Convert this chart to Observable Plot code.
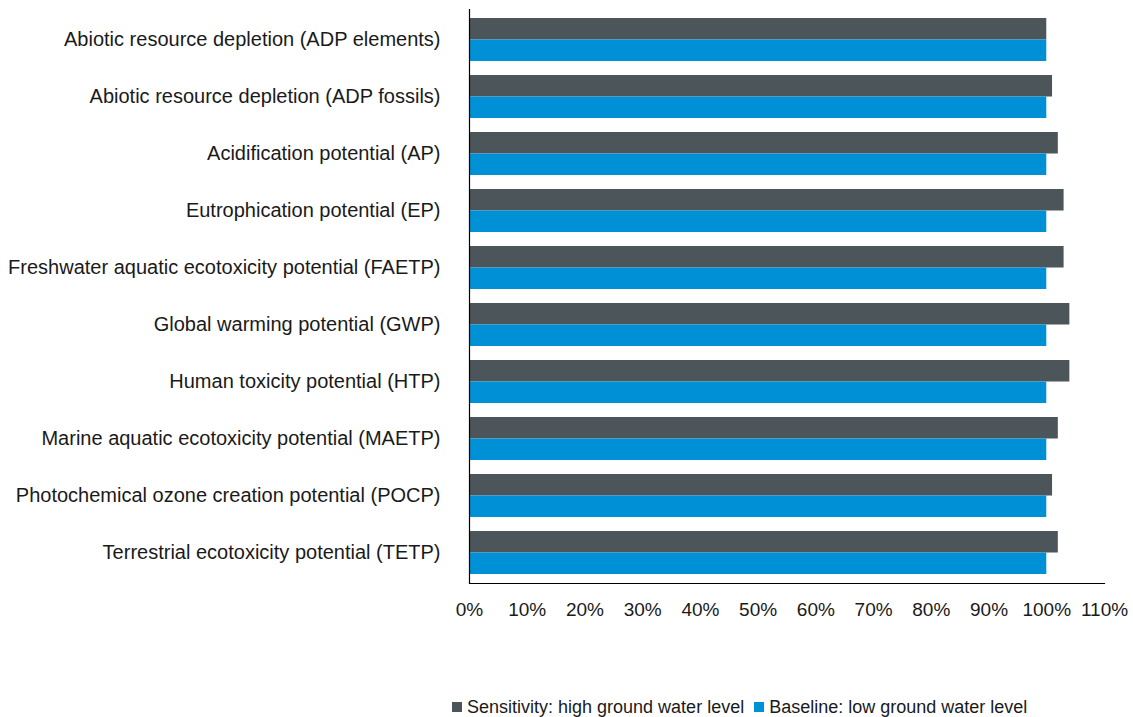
<!DOCTYPE html>
<html>
<head>
<meta charset="utf-8">
<script src="https://cdn.jsdelivr.net/npm/d3@7"></script>
<script src="https://cdn.jsdelivr.net/npm/@observablehq/plot@0.6"></script>
<style>
  html, body { margin: 0; padding: 0; background: #fff; }
  body { width: 1133px; height: 717px; overflow: hidden; font-family: "Liberation Sans", Arial, sans-serif; position: relative; }
  #legend { position: absolute; left: 452px; top: 696px; display: flex; align-items: center; gap: 10px; font-size: 18px; line-height: 22px; color: #1a1a1a; white-space: nowrap; }
  #legend .item { display: flex; align-items: center; gap: 5px; }
  #legend .sw { width: 10px; height: 10px; display: inline-block; }
</style>
</head>
<body>
<div id="chart"></div>
<div id="legend"></div>
<script>
const categories = [
  "Abiotic resource depletion (ADP elements)",
  "Abiotic resource depletion (ADP fossils)",
  "Acidification potential (AP)",
  "Eutrophication potential (EP)",
  "Freshwater aquatic ecotoxicity potential (FAETP)",
  "Global warming potential (GWP)",
  "Human toxicity potential (HTP)",
  "Marine aquatic ecotoxicity potential (MAETP)",
  "Photochemical ozone creation potential (POCP)",
  "Terrestrial ecotoxicity potential (TETP)"
];
const seriesNames = ["Sensitivity: high ground water level", "Baseline: low ground water level"];
const sensitivity = [100, 101, 102, 103, 103, 104, 104, 102, 101, 102];
const baseline = [100, 100, 100, 100, 100, 100, 100, 100, 100, 100];
const xTicks = [0, 10, 20, 30, 40, 50, 60, 70, 80, 90, 100, 110];
const colors = ["#4b555a", "#0090d5"];

const sensData = categories.map((c, i) => ({category: c, value: sensitivity[i]}));
const baseData = categories.map((c, i) => ({category: c, value: baseline[i]}));

const chart = Plot.plot({
  width: 1133,
  height: 690,
  marginLeft: 469,
  marginRight: 29,
  marginTop: 9,
  marginBottom: 107,
  style: {fontFamily: "Liberation Sans, Arial, sans-serif", fontSize: "19px", color: "#1a1a1a"},
  x: {domain: [0, 110], ticks: xTicks, tickFormat: d => d + "%"},
  y: {domain: categories, paddingInner: 0.25, paddingOuter: 0.125},
  marks: [
    Plot.barX(sensData, {x: "value", y: "category", fill: colors[0], insetBottom: 21.5}),
    Plot.barX(baseData, {x: "value", y: "category", fill: colors[1], insetTop: 21.5}),
    Plot.ruleX([0], {stroke: "#000", strokeWidth: 1.2}),
    Plot.frame({anchor: "bottom", stroke: "#000", strokeWidth: 1.2}),
    Plot.axisX({ticks: xTicks, tickFormat: d => d + "%", tickSize: 0, tickPadding: 19, fontSize: 19, fill: "#1a1a1a", label: null}),
    Plot.axisY({tickSize: 0, tickPadding: 29, fontSize: 20, fill: "#1a1a1a", label: null})
  ]
});
document.getElementById("chart").appendChild(chart);

const legend = document.getElementById("legend");
seriesNames.forEach((name, i) => {
  const item = document.createElement("span");
  item.className = "item";
  const sw = document.createElement("span");
  sw.className = "sw";
  sw.style.background = colors[i];
  const t = document.createElement("span");
  t.textContent = name;
  item.appendChild(sw);
  item.appendChild(t);
  legend.appendChild(item);
});
</script>
</body>
</html>
